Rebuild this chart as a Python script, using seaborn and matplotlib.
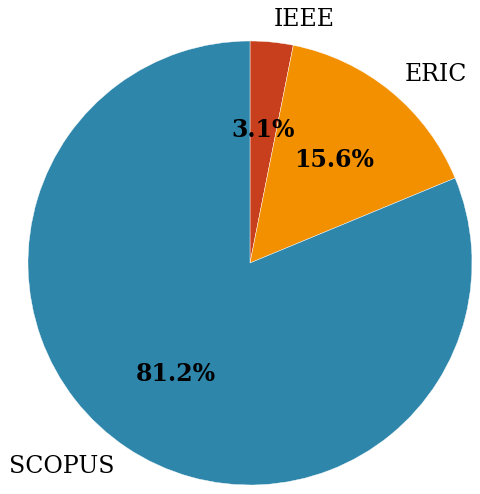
import matplotlib
matplotlib.use("Agg")
import matplotlib.pyplot as plt
import seaborn as sns

# counts per database (share of 32 papers)
sources = ["IEEE", "ERIC", "SCOPUS"]
counts = [1, 5, 26]
colors = ["#c83f1e", "#f29000", "#2e86ab"]

sns.set_theme(style="white")
plt.rcParams["font.family"] = ["DejaVu Serif"]
plt.rcParams["text.color"] = "black"

fig = plt.figure(figsize=(4.8, 4.94), dpi=100)
ax = fig.add_axes([28 / 480, 9 / 494, 444 / 480, 444 / 494])

wedges, texts, autotexts = ax.pie(
    counts,
    labels=sources,
    colors=colors,
    autopct="%.1f%%",
    startangle=90,
    counterclock=False,
    pctdistance=0.6,
    labeldistance=1.1,
    wedgeprops={"edgecolor": "white", "linewidth": 0.3},
    textprops={"fontsize": 17, "color": "black"},
)
for t in autotexts:
    t.set_fontsize(17)
    t.set_fontweight("bold")

ax.set_xlim(-1, 1)
ax.set_ylim(-1, 1)
ax.set_aspect("equal")

fig.savefig("out.png", dpi=100)
